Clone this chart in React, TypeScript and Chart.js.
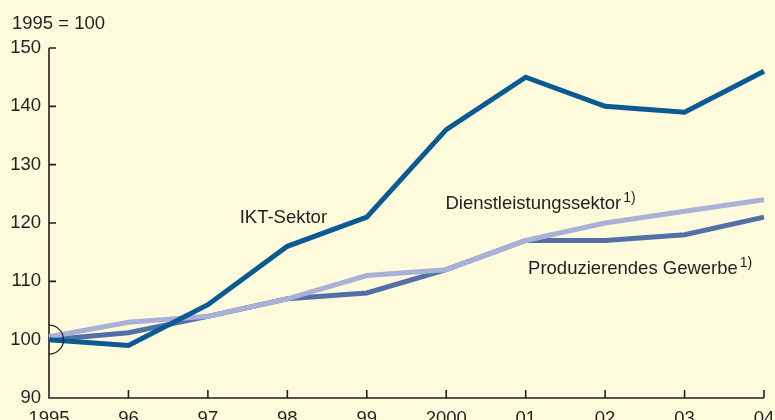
import React, { useEffect, useRef } from "react";
import { Chart, registerables } from "chart.js";

Chart.register(...registerables);

const years = ["1995", "96", "97", "98", "99", "2000", "01", "02", "03", "04"];
const ikt = [100, 99, 106, 116, 121, 136, 145, 140, 139, 146];
const dienst = [100.5, 103, 104, 107, 111, 112, 117, 120, 122, 124];
const produz = [100, 101.2, 104, 107, 108, 112, 117, 117, 118, 121];
const yTicks = [90, 100, 110, 120, 130, 140, 150];

const unitLabel = "1995 = 100";
// label anchors in data coordinates: [category index, value]
const labels = [
  { text: "IKT-Sektor", sup: "", x: 2.4, y: 120.0 },
  { text: "Dienstleistungssektor", sup: "1)", x: 4.99, y: 122.4 },
  { text: "Produzierendes Gewerbe", sup: "1)", x: 6.03, y: 111.3 },
];

const FONT = "'Liberation Sans', Arial, Helvetica, sans-serif";
const INK = "#231f20";
const FS = 18.5;

export default function App() {
  const ref = useRef<HTMLCanvasElement | null>(null);
  useEffect(() => {
    const canvas = ref.current!;
    const decor = {
      id: "decor",
      beforeDraw(chart: any) {
        const ctx = chart.ctx;
        ctx.save();
        ctx.fillStyle = "#fdfbdb";
        ctx.fillRect(0, 0, chart.width, chart.height);
        ctx.fillStyle = INK;
        ctx.font = `${FS}px ${FONT}`;
        ctx.textBaseline = "alphabetic";
        ctx.textAlign = "left";
        ctx.fillText(unitLabel, 12, 29);
        ctx.restore();
      },
      beforeDatasetsDraw(chart: any) {
        const ctx = chart.ctx;
        const xs = chart.scales.x;
        const ys = chart.scales.y;
        const left = xs.getPixelForValue(0);
        const right = xs.getPixelForValue(years.length - 1);
        const top = ys.getPixelForValue(150);
        const bottom = ys.getPixelForValue(90);
        ctx.save();
        ctx.strokeStyle = INK;
        ctx.lineWidth = 1.6;
        ctx.beginPath();
        ctx.moveTo(left, top);
        ctx.lineTo(left, bottom);
        ctx.lineTo(right, bottom);
        for (let i = 1; i < years.length; i++) {
          const px = xs.getPixelForValue(i);
          ctx.moveTo(px, bottom);
          ctx.lineTo(px, bottom - 8);
        }
        for (const v of yTicks) {
          if (v === 90) continue;
          const py = ys.getPixelForValue(v);
          ctx.moveTo(left, py);
          ctx.lineTo(left + 7, py);
        }
        ctx.stroke();
        ctx.restore();
      },
      afterDatasetsDraw(chart: any) {
        const ctx = chart.ctx;
        const xs = chart.scales.x;
        const ys = chart.scales.y;
        ctx.save();
        ctx.strokeStyle = INK;
        ctx.lineWidth = 1.2;
        ctx.beginPath();
        ctx.arc(xs.getPixelForValue(0), ys.getPixelForValue(100), 14.5, -Math.PI / 2, Math.PI / 2);
        ctx.stroke();
        ctx.fillStyle = INK;
        ctx.textAlign = "left";
        ctx.textBaseline = "alphabetic";
        for (const l of labels) {
          const px = xs.left + (l.x / (years.length - 1)) * (xs.right - xs.left);
          const py = ys.getPixelForValue(l.y);
          ctx.font = `${FS}px ${FONT}`;
          ctx.fillText(l.text, px, py);
          if (l.sup) {
            const w = ctx.measureText(l.text).width;
            ctx.font = `14px ${FONT}`;
            ctx.fillText(l.sup, px + w + 2, py - 7);
          }
        }
        ctx.restore();
      },
    };
    const chart = new Chart(canvas, {
      type: "line",
      data: {
        labels: years,
        datasets: [
          { label: "IKT-Sektor", data: ikt, borderColor: "#0b5a94", borderWidth: 5, pointRadius: 0, order: 1, tension: 0 },
          { label: "Dienstleistungssektor", data: dienst, borderColor: "#a9b1d6", borderWidth: 5, pointRadius: 0, order: 2, tension: 0 },
          { label: "Produzierendes Gewerbe", data: produz, borderColor: "#5270a6", borderWidth: 5, pointRadius: 0, order: 3, tension: 0 },
        ],
      },
      options: {
        responsive: false,
        animation: false,
        devicePixelRatio: 1,
        layout: { padding: { top: 48, right: 11, left: 0, bottom: 0 } },
        plugins: { legend: { display: false }, tooltip: { enabled: false } },
        scales: {
          x: {
            type: "category",
            offset: false,
            grid: { display: false, drawTicks: false },
            border: { display: false },
            ticks: { color: INK, font: { size: FS, family: FONT }, padding: 10, maxRotation: 0, autoSkip: false },
            afterFit(s: any) {
              s.height = 22;
              s.paddingLeft = 0;
              s.paddingRight = 0;
            },
          },
          y: {
            min: 90,
            max: 150,
            grid: { display: false, drawTicks: false },
            border: { display: false },
            ticks: { stepSize: 10, color: INK, font: { size: FS, family: FONT }, padding: 8 },
            afterFit(s: any) {
              s.width = 49;
              s.paddingTop = 0;
              s.paddingBottom = 0;
            },
          },
        },
      },
      plugins: [decor],
    } as any);
    return () => chart.destroy();
  }, []);
  return (
    <div style={{ position: "absolute", left: 0, top: 0, width: 775, height: 420 }}>
      <canvas ref={ref} width={775} height={420} style={{ display: "block", width: 775, height: 420 }} />
    </div>
  );
}
